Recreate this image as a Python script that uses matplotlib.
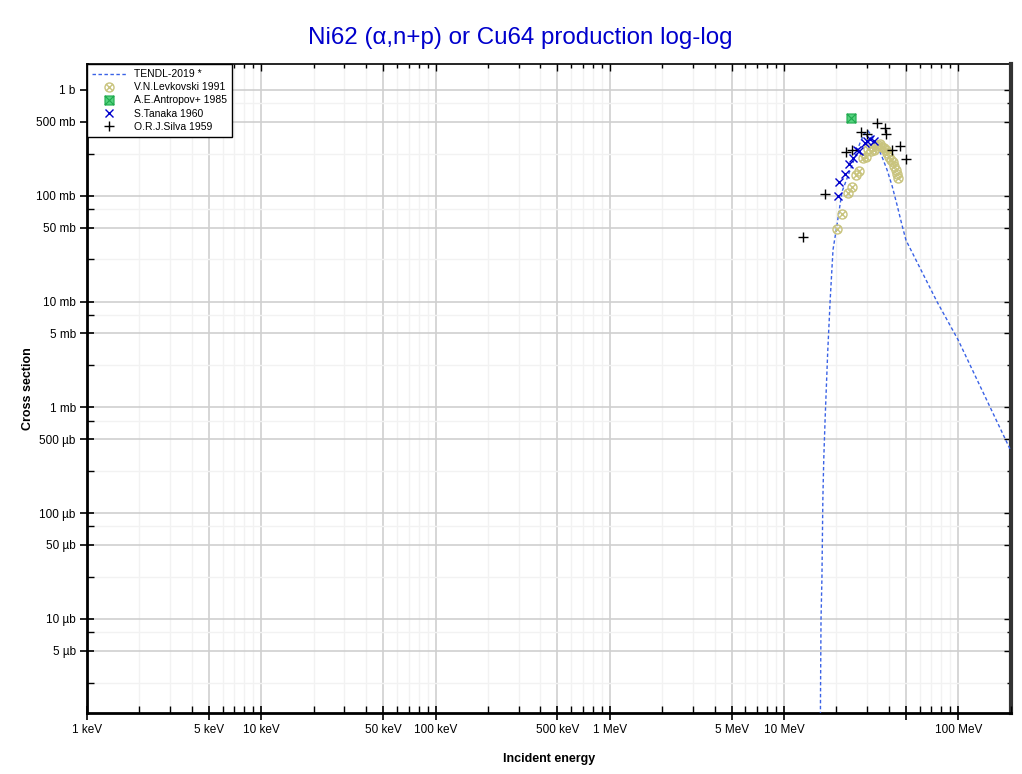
import numpy as np
import matplotlib
matplotlib.use('Agg')
import matplotlib.pyplot as plt
from matplotlib.path import Path
from matplotlib.ticker import FixedLocator, FixedFormatter, NullFormatter

plt.rcParams['font.family'] = ['Liberation Sans', 'DejaVu Sans']

# TENDL-2019 evaluation (energy in MeV, cross section in mb)
tendl_e = [16.05, 16.2, 16.3, 16.5, 16.7, 16.9, 17.2, 17.8, 18.4, 19.1, 20.1, 21.5,
           23.3, 25.5, 27.3, 28.8, 30.3, 31.9, 34.2, 36.5, 39.0, 41.7, 44.5, 47.5,
           50.1, 75.5, 99.7, 200.0]
tendl_xs = [1e-4, 2.1e-3, 9.8e-3, 0.0245, 0.134, 0.32, 0.76, 3.28, 10.4, 30.9, 52, 109,
            155, 229, 317, 385, 411, 369, 297, 234, 176, 124, 82, 53,
            38, 9.96, 4.35, 0.39]

# V.N.Levkovski 1991
lev_e = [20.2, 21.5, 23.3, 24.5, 25.9, 26.9, 28.4, 29.5, 30.3, 31.6, 32.8, 33.7, 34.6,
         35.5, 36.5, 37.5, 38.5, 39.0, 40.0, 41.1, 42.2, 42.8, 44.0, 44.5, 45.1]
lev_xs = [48.8, 67.6, 107, 122, 158, 172, 229, 234, 278, 266, 272, 297, 303,
          310, 290, 284, 272, 255, 234, 219, 210, 192, 176, 161, 148]

# A.E.Antropov+ 1985
antr_e = [24.2]
antr_xs = [546]

# S.Tanaka 1960
tan_e = [20.4, 20.7, 22.4, 23.6, 24.9, 26.2, 26.9, 29.2, 29.9, 31.2, 32.8]
tan_xs = [100, 136, 161, 200, 229, 272, 266, 317, 331, 346, 331]

# O.R.J.Silva 1959
sil_e = [12.85, 17.2, 22.7, 24.5, 27.7, 29.9, 34.2, 38.0, 38.5, 41.7, 46.3, 50.1]
sil_xs = [41, 104, 260, 272, 403, 385, 490, 439, 385, 272, 297, 224]

# axis ticks (MeV / mb)
x_major = [1e-3, 5e-3, 1e-2, 5e-2, 0.1, 0.5, 1, 5, 10, 50, 100]
x_labels = ['1 keV', '5 keV', '10 keV', '50 keV', '100 keV', '500 keV',
            '1 MeV', '5 MeV', '10 MeV', '', '100 MeV']
y_major = [1000, 500, 100, 50, 10, 5, 1, 0.5, 0.1, 0.05, 0.01, 0.005]
y_labels = ['1 b', '500 mb', '100 mb', '50 mb', '10 mb', '5 mb', '1 mb',
            '500 µb', '100 µb', '50 µb', '10 µb', '5 µb']

x_minor = [m * 10.0 ** d for d in range(-3, 3) for m in (2, 3, 4, 6, 7, 8, 9)]
y_minor = [m * 10.0 ** d for d in range(-3, 4) for m in (2.5, 7.5)]

# marker shapes
circ = Path.unit_circle()
k = 0.7071
xcross = Path([(-k, -k), (k, k), (-k, k), (k, -k)],
              [Path.MOVETO, Path.LINETO, Path.MOVETO, Path.LINETO])
otimes = Path.make_compound_path(circ, xcross)
sq = Path([(-1, -1), (1, -1), (1, 1), (-1, 1), (-1, -1)],
          [Path.MOVETO, Path.LINETO, Path.LINETO, Path.LINETO, Path.CLOSEPOLY])
sqx = Path([(-1, -1), (1, 1), (-1, 1), (1, -1)],
           [Path.MOVETO, Path.LINETO, Path.MOVETO, Path.LINETO])
boxtimes = Path.make_compound_path(sq, sqx)

fig = plt.figure(figsize=(10.22, 7.74), dpi=100)
ax = fig.add_axes([0.0851, 0.0788, 0.9039, 0.8385])
ax.set_xscale('log')
ax.set_yscale('log')
ax.set_xlim(1e-3, 200)
ax.set_ylim(1.29e-3, 1760)

ax.plot(tendl_e, tendl_xs, color='#3a62e6', lw=1.0, dashes=(2.5, 1.8),
        label='TENDL-2019 *', zorder=3)
ax.plot(lev_e, lev_xs, ls='none', marker=otimes, ms=6.5, mfc='none', mec='#c9c47e',
        mew=1.0, label='V.N.Levkovski 1991', zorder=4)
ax.plot(antr_e, antr_xs, ls='none', marker=boxtimes, ms=6.5, mfc='#55d27e', mec='#1faa4e',
        mew=0.8, label='A.E.Antropov+ 1985', zorder=4)
ax.plot(tan_e, tan_xs, ls='none', marker='x', ms=5.5, mec='#0000cc', mew=1.0,
        label='S.Tanaka 1960', zorder=5)
ax.plot(sil_e, sil_xs, ls='none', marker='+', ms=7, mec='black', mew=1.0,
        label='O.R.J.Silva 1959', zorder=5)

# grid
for v in x_minor:
    ax.axvline(v, color='#f2f2f2', lw=1.0, zorder=0)
for v in x_major:
    ax.axvline(v, color='#cfcfcf', lw=1.2, zorder=0)
for v in y_minor:
    ax.axhline(v, color='#f2f2f2', lw=1.0, zorder=0)
for v in y_major + [5000]:
    ax.axhline(v, color='#cfcfcf', lw=1.2, zorder=0)

ax.xaxis.set_major_locator(FixedLocator(x_major))
ax.xaxis.set_major_formatter(FixedFormatter(x_labels))
ax.xaxis.set_minor_locator(FixedLocator(x_minor))
ax.xaxis.set_minor_formatter(NullFormatter())
ax.yaxis.set_major_locator(FixedLocator(y_major))
ax.yaxis.set_major_formatter(FixedFormatter(y_labels))
ax.yaxis.set_minor_locator(FixedLocator(y_minor))
ax.yaxis.set_minor_formatter(NullFormatter())
ax.tick_params(which='major', direction='inout', length=10, width=1.2,
               labelsize=8.5, colors='black', pad=3)
ax.tick_params(which='minor', direction='in', length=5, width=1.0)

# ticks on top and right pointing inward
top = ax.secondary_xaxis('top')
top.xaxis.set_major_locator(FixedLocator(x_major))
top.xaxis.set_minor_locator(FixedLocator(x_minor))
top.xaxis.set_major_formatter(NullFormatter())
top.xaxis.set_minor_formatter(NullFormatter())
top.tick_params(which='major', direction='in', length=5, width=1.0)
top.tick_params(which='minor', direction='in', length=3, width=1.0)
top.spines['top'].set_linewidth(1.2)

right = ax.secondary_yaxis('right')
right.yaxis.set_major_locator(FixedLocator(y_major))
right.yaxis.set_minor_locator(FixedLocator(y_minor))
right.yaxis.set_major_formatter(NullFormatter())
right.yaxis.set_minor_formatter(NullFormatter())
right.tick_params(which='major', direction='in', length=5, width=1.0)
right.tick_params(which='minor', direction='in', length=3, width=1.0)
right.spines['right'].set_linewidth(3)
right.spines['right'].set_color('#333333')

ax.spines['left'].set_linewidth(2)
ax.spines['bottom'].set_linewidth(2)
ax.spines['top'].set_visible(False)
ax.spines['right'].set_visible(False)

ax.set_xlabel('Incident energy', fontsize=9, fontweight='bold', labelpad=12)
ax.set_ylabel('Cross section', fontsize=9, fontweight='bold', labelpad=1.5)
fig.suptitle('Ni62 (α,n+p) or Cu64 production log-log', fontsize=17.4,
             color='#0000cc', x=0.509, y=0.965)

leg = ax.legend(loc='upper left', borderaxespad=0, fontsize=7.5, frameon=True,
                fancybox=False, edgecolor='black', framealpha=1, labelspacing=0.3,
                handlelength=3.2, borderpad=0.5)
leg.get_frame().set_linewidth(1.0)

fig.savefig('out.png', dpi=100)
